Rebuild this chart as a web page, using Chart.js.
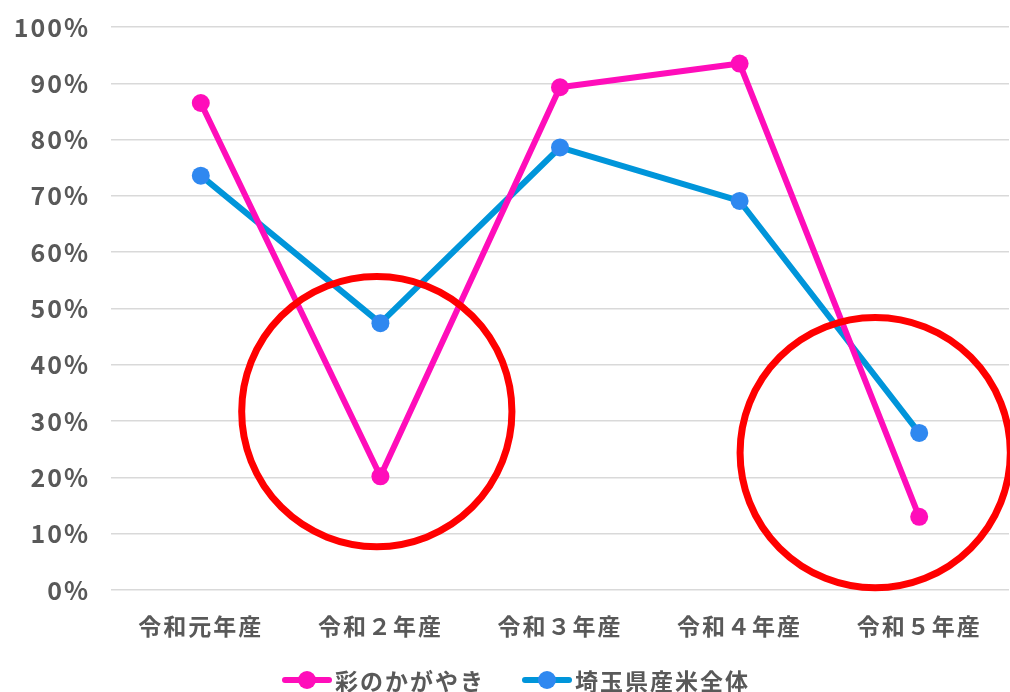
<!DOCTYPE html>
<html>
<head>
<meta charset="utf-8">
<script src="https://cdn.jsdelivr.net/npm/chart.js@4.4.0/dist/chart.umd.min.js"></script>
<style>
  html, body { margin: 0; padding: 0; background: #fff; }
  #wrap { width: 1010px; height: 692px; }
</style>
</head>
<body>
<div id="wrap"><canvas id="rateChart" width="1010" height="692"></canvas></div>
<script>
// data (percent)
const categories = ["令和元年産", "令和２年産", "令和３年産", "令和４年産", "令和５年産"];
const seriesNames = ["彩のかがやき", "埼玉県産米全体"];
const irodoriValues = [86.5, 20.2, 89.3, 93.5, 13.0];
const saitamaValues = [73.6, 47.4, 78.6, 69.1, 27.9];
const yTickValues = [0, 10, 20, 30, 40, 50, 60, 70, 80, 90, 100];

// red highlight rings: centre (category index, %) and radius (%)
const ringCenterX = [0.98, 3.755];
const ringCenterY = [31.7, 24.4];
const ringRadius = [24, 24];

const textColor = "#595959";
const fontFamily = '"Noto Sans CJK JP", "Noto Sans", sans-serif';

// rounded-font look: a bit of letter spacing on all canvas text
const spacingPlugin = {
  id: "spacing",
  beforeUpdate(chart) { chart.ctx.letterSpacing = "2px"; },
  beforeDraw(chart) { chart.ctx.letterSpacing = "2px"; },
};

const ringPlugin = {
  id: "rings",
  afterDatasetsDraw(chart) {
    const { ctx, scales: { x, y } } = chart;
    ctx.save();
    ctx.strokeStyle = "#FF0000";
    ctx.lineWidth = 7;
    ringCenterX.forEach((cxVal, i) => {
      const cx = x.getPixelForValue(cxVal);
      const cy = y.getPixelForValue(ringCenterY[i]);
      const r = y.getPixelForValue(0) - y.getPixelForValue(ringRadius[i]);
      ctx.beginPath();
      ctx.arc(cx, cy, r, 0, Math.PI * 2);
      ctx.stroke();
    });
    ctx.restore();
  },
};

// legend: short line with a marker, then the name
const lineLegendPlugin = {
  id: "lineLegend",
  afterDraw(chart) {
    const ctx = chart.ctx;
    ctx.save();
    ctx.font = "700 23px " + fontFamily;
    ctx.textBaseline = "middle";
    ctx.textAlign = "left";
    const sets = chart.data.datasets;
    const widths = sets.map((ds) => 50 + 3 + ctx.measureText(ds.label).width);
    const total = widths.reduce((a, b) => a + b, 0) + 37 * (sets.length - 1);
    let x = (chart.width - total) / 2 + 11;
    const y = 680;
    sets.forEach((ds, i) => {
      ctx.strokeStyle = ds.borderColor;
      ctx.lineWidth = 6;
      ctx.lineCap = "round";
      ctx.beginPath();
      ctx.moveTo(x + 3, y);
      ctx.lineTo(x + 47, y);
      ctx.stroke();
      ctx.fillStyle = ds.pointBackgroundColor;
      ctx.beginPath();
      ctx.arc(x + 25, y, 9, 0, Math.PI * 2);
      ctx.fill();
      ctx.fillStyle = textColor;
      ctx.fillText(ds.label, x + 53, y + 1);
      x += widths[i] + 37;
    });
    ctx.restore();
  },
};

new Chart(document.getElementById("rateChart"), {
  type: "line",
  data: {
    labels: categories,
    datasets: [
      {
        label: seriesNames[0],
        data: irodoriValues,
        borderColor: "#FF0DBA",
        backgroundColor: "#FF0DBA",
        pointBackgroundColor: "#FF0DBA",
        borderWidth: 6,
        pointRadius: 9,
        pointHoverRadius: 9,
        pointBorderWidth: 0,
        borderCapStyle: "round",
        borderJoinStyle: "round",
        tension: 0,
      },
      {
        label: seriesNames[1],
        data: saitamaValues,
        borderColor: "#0095DA",
        backgroundColor: "#2F88F0",
        pointBackgroundColor: "#2F88F0",
        borderWidth: 6,
        pointRadius: 9,
        pointHoverRadius: 9,
        pointBorderWidth: 0,
        borderCapStyle: "round",
        borderJoinStyle: "round",
        tension: 0,
      },
    ],
  },
  options: {
    responsive: false,
    animation: false,
    devicePixelRatio: 1,
    layout: { autoPadding: false, padding: { top: 27, right: 1, bottom: 0, left: 0 } },
    plugins: {
      legend: { display: false },
      tooltip: { enabled: false },
    },
    scales: {
      x: {
        offset: true,
        grid: { display: false, drawTicks: false },
        border: { display: false },
        ticks: {
          color: textColor,
          padding: 22,
          maxRotation: 0,
          font: { family: fontFamily, size: 23, weight: "700" },
        },
        afterFit(scale) {
          scale.height = 102;
          scale.paddingLeft = 0;
          scale.paddingRight = 0;
        },
      },
      y: {
        min: 0,
        max: 100,
        grid: { color: "#D9D9D9", lineWidth: 1.5, drawTicks: false },
        border: { display: false },
        afterBuildTicks(scale) {
          scale.ticks = yTickValues.map((v) => ({ value: v }));
        },
        ticks: {
          color: textColor,
          padding: 21,
          font: { family: fontFamily, size: 25, weight: "700" },
          callback: (v) => v + "%",
        },
        afterFit(scale) {
          scale.width = 111;
          scale.paddingTop = 0;
          scale.paddingBottom = 0;
        },
      },
    },
  },
  plugins: [spacingPlugin, ringPlugin, lineLegendPlugin],
});
</script>
</body>
</html>
